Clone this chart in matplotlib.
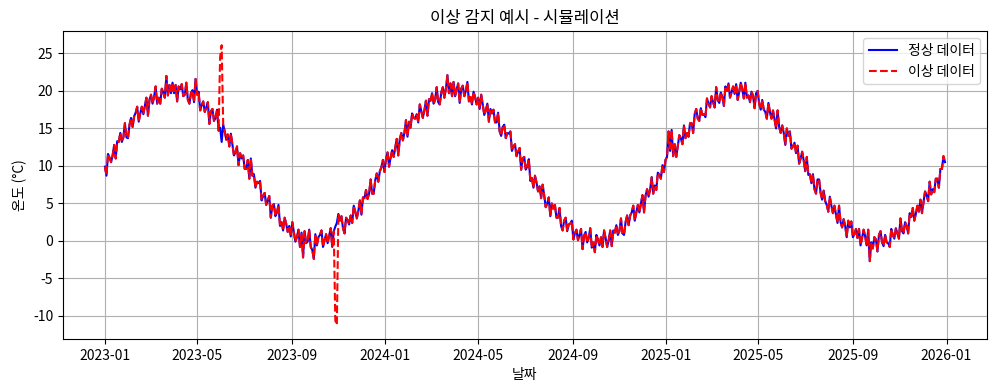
import matplotlib
matplotlib.use("Agg")
import matplotlib.pyplot as plt
import matplotlib.dates as mdates
import pandas as pd

plt.rcParams['font.family'] = ['Noto Sans CJK KR', 'DejaVu Sans']
plt.rcParams['axes.unicode_minus'] = False

# values, one every 2 days from 2023-01-01
temp_2023 = [
    9.9, 8.7, 11.6, 11.1, 10.5, 11.4, 12.8, 11.0, 13.3, 13.2,
    14.4, 13.2, 13.8, 15.7, 13.8, 13.7, 15.5, 16.4, 15.2, 16.6,
    17.1, 17.9, 15.9, 17.0, 17.9, 16.9, 18.0, 19.1, 16.7, 18.8,
    19.5, 18.3, 19.2, 20.6, 18.3, 19.1, 18.3, 20.3, 19.8, 19.1,
    22.0, 19.4, 20.8, 19.7, 21.1, 19.7, 20.8, 18.6, 20.6, 20.2,
    20.9, 19.3, 19.5, 21.1, 18.8, 18.3, 19.7, 20.1, 18.5, 21.6,
    19.5, 19.9, 17.4, 18.1, 18.6, 17.2, 17.8, 18.5, 15.6, 17.3,
    17.6, 16.0, 16.4, 17.5, 14.7, 15.1, 13.2, 15.5, 14.6, 13.5,
    14.2, 12.6, 14.3, 12.9, 11.4, 11.8, 12.6, 10.1, 11.7, 11.0,
    11.4, 9.6, 9.6, 10.8, 8.3, 11.0, 8.7, 8.9, 7.1, 7.9,
    7.7, 8.0, 5.4, 6.0, 6.4, 4.8, 5.4, 6.0, 3.1, 4.7,
    4.9, 3.3, 3.8, 4.8, 2.0, 2.5, 1.4, 3.1, 2.3, 1.2,
    2.0, 0.6, 2.5, 1.2, -0.1, 0.5, 1.5, -0.8, 1.1, -2.2,
    1.3, -0.3, -0.1, 1.5, -0.8, -1.2, -2.4, 0.9, -0.6, 0.5,
    0.8, 1.4, -0.8, 0.1, 0.9, -0.3, 0.7, 1.7, -0.8, 1.3,
    1.9, 2.4, 3.6, 2.7, 3.3, 1.7, 1.0, 3.1, 2.8, 2.2,
    3.4, 2.4, 4.7, 3.9, 3.0, 4.0, 5.4, 3.5, 5.8, 5.7,
    6.8, 5.6, 6.3, 8.2, 6.3, 6.3, 8.1, 9.0, 7.9, 9.3,
    9.8, 10.8, 9.2,
]
temp_2024 = [
    10.9, 11.8, 9.9, 11.1, 12.1, 11.2, 12.4, 13.6, 11.4, 13.6,
    14.4, 13.4, 14.4, 16.1, 13.9, 15.9, 15.1, 17.0, 16.4, 16.3,
    16.9, 15.8, 18.2, 17.3, 16.4, 17.4, 18.7, 16.7, 18.9, 18.7,
    19.7, 18.3, 18.8, 20.5, 18.5, 18.2, 19.8, 20.5, 19.1, 20.3,
    22.1, 19.7, 21.0, 19.3, 21.2, 19.3, 20.2, 21.0, 18.4, 20.3,
    20.7, 19.3, 20.0, 21.2, 18.6, 19.2, 18.2, 19.9, 19.2, 18.2,
    19.1, 17.6, 19.5, 18.2, 16.8, 17.4, 18.3, 15.9, 17.6, 17.0,
    17.5, 15.8, 15.8, 17.1, 14.6, 14.0, 15.2, 15.5, 13.7, 14.4,
    14.3, 14.6, 12.0, 12.6, 12.9, 11.3, 11.9, 12.4, 9.5, 11.0,
    11.2, 9.5, 9.9, 10.9, 8.0, 8.4, 7.1, 8.7, 7.8, 6.6,
    7.3, 5.7, 7.5, 6.1, 4.5, 5.0, 5.8, 3.3, 5.0, 4.3,
    4.8, 3.1, 3.1, 4.4, 2.0, 1.4, 2.7, 3.1, 1.3, 2.2,
    2.3, 2.7, 0.2, 1.0, 1.5, 0.1, 0.8, 1.6, -1.1, 0.7,
    1.2, -0.2, 0.4, 1.7, -0.9, -0.2, -1.5, 0.8, 0.2, -0.6,
    0.5, -0.8, 1.4, 0.4, -0.8, 0.1, 1.4, -0.7, 1.4, 1.1,
    2.1, 0.8, 1.3, 3.0, 1.0, 0.8, 2.5, 3.4, 2.1, 3.4,
    3.8, 4.7, 2.7, 3.8, 4.8, 3.8, 5.0, 6.1, 3.8, 6.0,
    6.9, 5.9, 6.9, 8.5, 6.3, 7.4, 6.8, 9.1, 8.8, 8.3,
    10.1, 9.2, 10.8,
]
temp_2025 = [
    11.2, 14.6, 12.0, 14.8,
    11.3, 12.9, 11.2, 12.6, 14.1, 13.7, 12.9, 15.4, 13.7, 14.4,
    13.9, 15.7, 15.7, 14.4, 16.9, 17.6, 16.3, 16.0, 17.7, 16.8,
    16.9, 16.5, 19.0, 18.3, 17.8, 19.3, 18.5, 17.8, 20.5, 18.8,
    18.4, 19.8, 19.2, 18.0, 20.6, 20.0, 21.0, 19.1, 19.8, 20.6,
    19.6, 20.9, 18.8, 19.9, 21.1, 20.2, 19.0, 21.1, 19.1, 19.4,
    18.5, 19.9, 19.4, 17.7, 19.7, 20.0, 18.3, 17.5, 18.8, 17.5,
    17.2, 16.3, 18.4, 17.2, 16.3, 17.4, 16.2, 15.0, 17.4, 15.2,
    14.4, 15.4, 14.4, 12.8, 15.0, 14.0, 14.6, 12.3, 12.6, 13.1,
    11.7, 12.7, 10.3, 11.0, 11.9, 10.7, 9.3, 11.2, 8.8, 8.9,
    7.7, 8.9, 6.9, 6.3, 8.2, 8.2, 6.4, 5.5, 6.7, 5.3,
    4.8, 3.9, 5.9, 4.7, 3.7, 4.7, 3.5, 2.4, 4.7, 2.5,
    1.8, 2.9, 2.0, 0.5, 2.7, 1.8, 2.6, 0.5, 0.9, 1.6,
    0.4, 1.6, -0.6, 0.4, 1.5, 0.6, -0.6, 1.5, -2.7, -0.2,
    -1.0, 0.5, 0.2, -1.4, 0.8, 1.3, -0.2, -0.7, 0.8, -0.2,
    -0.3, -0.8, 1.6, 0.8, 0.3, 1.7, 1.0, 0.3, 3.0, 1.3,
    1.0, 2.5, 2.0, 1.0, 3.7, 3.2, 4.4, 2.7, 3.6, 4.7,
    3.9, 5.5, 3.7, 5.1, 6.6, 6.1, 5.3, 7.9, 6.2, 6.9,
    6.5, 8.3, 8.3, 7.1, 9.6, 9.6, 11.3, 10.5,
]

# injected anomalies (positions in the series, replaced values)
anomaly_idx = [75, 76, 150, 151]
anomaly_val = [24.5, 26.1, -10.6, -11.2]

normal = temp_2023 + temp_2024 + temp_2025
dates = pd.date_range("2023-01-01", periods=len(normal), freq="2D")
anomal = list(normal)
for i, v in zip(anomaly_idx, anomaly_val):
    anomal[i] = v

fig, ax = plt.subplots(figsize=(9.99, 3.9), dpi=100)
fig.subplots_adjust(left=0.063, right=0.988, top=0.92, bottom=0.131)

ax.plot(dates, normal, color="blue", lw=1.5, label="정상 데이터")
ax.plot(dates, anomal, color="red", lw=1.5, ls="--", label="이상 데이터")

ax.xaxis.set_major_locator(mdates.MonthLocator(bymonth=[1, 5, 9]))
ax.xaxis.set_major_formatter(mdates.DateFormatter("%Y-%m"))
ax.set_title("이상 감지 예시 - 시뮬레이션")
ax.set_xlabel("날짜")
ax.set_ylabel("온도 (°C)")
ax.grid(True)
ax.legend(loc="upper right")

fig.savefig("out.png", dpi=100)
